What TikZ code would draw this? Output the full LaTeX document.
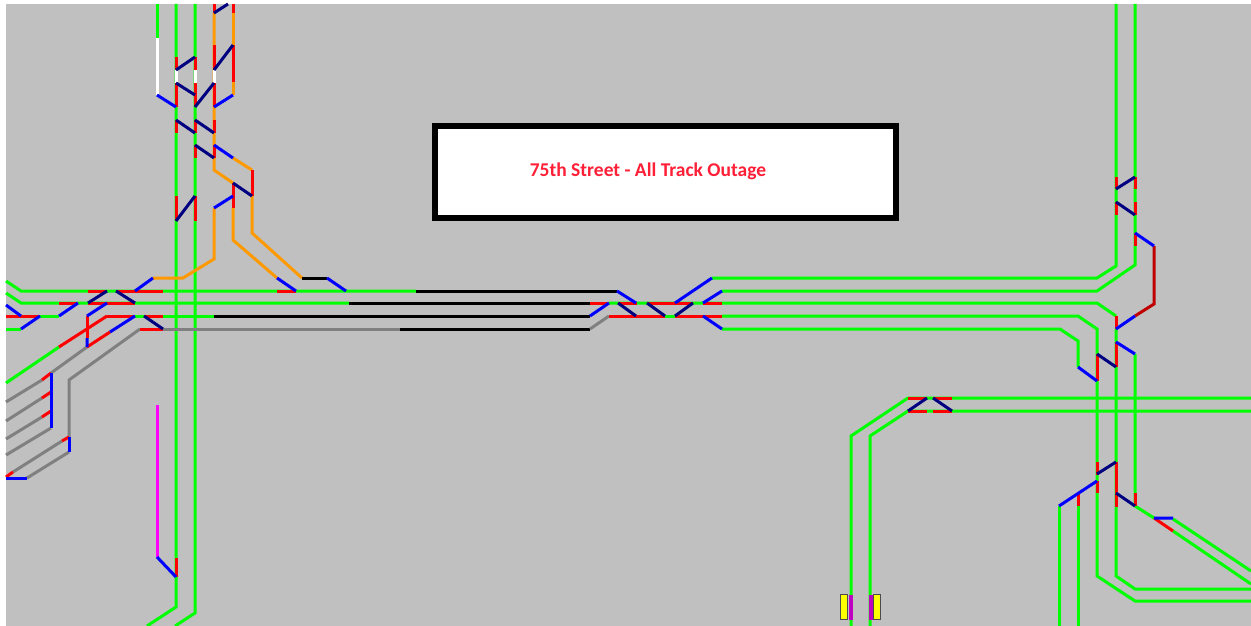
\documentclass[tikz,border=0pt]{standalone}
\usepackage{fontspec}
\setmainfont{Carlito}
\definecolor{panelgray}{RGB}{192,192,192}
\definecolor{signalgreen}{RGB}{0,255,0}
\definecolor{signalred}{RGB}{255,0,0}
\definecolor{signalblue}{RGB}{0,0,255}
\definecolor{signalnavy}{RGB}{0,0,128}
\definecolor{signalorange}{RGB}{255,153,0}
\definecolor{signalmaroon}{RGB}{192,0,0}
\definecolor{signalgray}{RGB}{128,128,128}
\definecolor{signalmagenta}{RGB}{255,0,255}
\definecolor{platformyellow}{RGB}{255,255,0}
\definecolor{platformpurple}{RGB}{192,0,192}
\definecolor{outagered}{RGB}{255,32,56}
\tikzset{
  greentrack/.style={draw=signalgreen, line width=3pt},
  redtrack/.style={draw=signalred, line width=3pt},
  bluetrack/.style={draw=signalblue, line width=3pt},
  navytrack/.style={draw=signalnavy, line width=3pt},
  orangetrack/.style={draw=signalorange, line width=3pt},
  blacktrack/.style={draw=black, line width=3pt},
  graytrack/.style={draw=signalgray, line width=3pt},
  whitetrack/.style={draw=white, line width=3pt},
  maroontrack/.style={draw=signalmaroon, line width=3pt},
  magentatrack/.style={draw=signalmagenta, line width=3pt},
  outagebox/.style={draw=black, fill=white, line width=6pt, minimum width=461pt, minimum height=92pt, inner sep=0pt},
  platform/.style={draw=black!70, fill=platformyellow, line width=1pt, minimum width=7pt, minimum height=25pt, inner sep=0pt},
  platformedge/.style={fill=platformpurple, minimum width=4pt, minimum height=25pt, inner sep=0pt}
}
\begin{document}
\begin{tikzpicture}[x=1pt,y=-1pt]
\useasboundingbox (0,0) rectangle (1251,626);
\fill[panelgray] (6,4) rectangle (1251,626);

\draw[greentrack] (157,4) -- (157,38);
\draw[greentrack] (176,4) -- (176,607) -- (147,626);
\draw[greentrack] (195,4) -- (195,613) -- (175,626);
\draw[greentrack] (6,281) -- (21,291) -- (416,291);
\draw[greentrack] (6,293) -- (21,303) -- (349,303);
\draw[greentrack] (40,316) -- (59,316) (135,316) -- (214,316) (6,329) -- (21,329);
\draw[greentrack] (59,347) -- (6,383);
\draw[greentrack] (609,303) -- (1097,303) -- (1116,316);
\draw[greentrack] (665,316) -- (675,316);
\draw[greentrack] (722,316) -- (1078,316) -- (1097,329) -- (1097,576) -- (1135,601) -- (1251,601);
\draw[greentrack] (712,278) -- (1097,278) -- (1116,266) -- (1116,4);
\draw[greentrack] (722,291) -- (1097,291) -- (1135,265) -- (1135,4);
\draw[greentrack] (722,329) -- (1060,329) -- (1078,341) -- (1078,367);
\draw[greentrack] (1116,329) -- (1116,576) -- (1135,589) -- (1251,589);
\draw[greentrack] (1135,354) -- (1135,506) -- (1154,518);
\draw[greentrack] (1173,531) -- (1251,584) (1173,519) -- (1251,571);
\draw[greentrack] (1059,506) -- (1059,626) (1078,506) -- (1078,626);
\draw[greentrack] (1251,398) -- (908,398) -- (851,436) -- (851,626);
\draw[greentrack] (1251,411) -- (908,411) -- (870,436) -- (870,626);

\draw[orangetrack] (214,13) -- (214,170) -- (233,183);
\draw[orangetrack] (233,13) -- (233,95);
\draw[orangetrack] (233,158) -- (252,170);
\draw[orangetrack] (214,208) -- (214,259) -- (183,278) -- (153,278);
\draw[orangetrack] (233,208) -- (233,240) -- (277,278);
\draw[orangetrack] (252,196) -- (252,233) -- (302,278);

\draw[blacktrack] (302,278) -- (327,278);
\draw[blacktrack] (416,291) -- (617,291);
\draw[blacktrack] (349,303) -- (590,303);
\draw[blacktrack] (214,316) -- (590,316);
\draw[blacktrack] (400,329) -- (590,329);

\draw[graytrack] (163,329) -- (400,329);
\draw[graytrack] (590,329) -- (609,316);
\draw[graytrack] (140,329) -- (69,380) -- (69,437);
\draw[graytrack] (69,452) -- (27,478);
\draw[graytrack] (62,441) -- (13,472);
\draw[graytrack] (87,347) -- (51,373);
\draw[graytrack] (42,380) -- (6,402) (42,398) -- (6,421) (42,417) -- (6,439);
\draw[graytrack] (51,428) -- (6,455);

\draw[whitetrack] (157,38) -- (157,95);
\draw[whitetrack] (176,70) -- (176,83) (195,70) -- (195,83) (214,70) -- (214,83);
\draw[magentatrack] (157,405) -- (157,557);

\draw[redtrack] (176,57) -- (176,70) (176,83) -- (176,107) (176,120) -- (176,133) (176,196) -- (176,221);
\draw[redtrack] (195,57) -- (195,70) (195,83) -- (195,107) (195,120) -- (195,133) (195,145) -- (195,158) (195,196) -- (195,221);
\draw[redtrack] (214,4) -- (214,13) (214,45) -- (214,70) (214,83) -- (214,107) (214,120) -- (214,133) (214,145) -- (214,158);
\draw[redtrack] (233,4) -- (233,13) (233,45) -- (233,82) (233,183) -- (233,208);
\draw[redtrack] (252,170) -- (252,196);
\draw[redtrack] (176,558) -- (176,577);
\draw[redtrack] (88,291) -- (107,291) (116,291) -- (163,291) (277,291) -- (296,291);
\draw[redtrack] (59,303) -- (78,303) (88,303) -- (135,303);
\draw[redtrack] (6,316) -- (40,316) (107,316) -- (135,316) (144,316) -- (163,316);
\draw[redtrack] (140,329) -- (163,329);
\draw[redtrack] (107,316) -- (59,347);
\draw[redtrack] (87,316) -- (87,338);
\draw[redtrack] (87,347) -- (110,332);
\draw[redtrack] (51,373) -- (42,380) (51,392) -- (42,398) (51,411) -- (42,417);
\draw[redtrack] (69,437) -- (62,441) (13,472) -- (6,477);
\draw[redtrack] (590,303) -- (609,303) (618,303) -- (637,303) (647,303) -- (693,303) (703,303) -- (722,303);
\draw[redtrack] (609,316) -- (665,316) (675,316) -- (722,316);
\draw[redtrack] (908,398) -- (927,398) (933,398) -- (952,398) (908,411) -- (927,411) (933,411) -- (952,411);
\draw[redtrack] (1116,177) -- (1116,189) (1116,202) -- (1116,215) (1135,177) -- (1135,189) (1135,202) -- (1135,215) (1135,233) -- (1135,246);
\draw[redtrack] (1116,316) -- (1116,329) (1116,342) -- (1116,367) (1097,354) -- (1097,381);
\draw[redtrack] (1097,462) -- (1097,475) (1097,481) -- (1097,493) (1116,462) -- (1116,507) (1135,493) -- (1135,506) (1078,493) -- (1078,506);
\draw[redtrack] (1154,518) -- (1173,531);

\draw[maroontrack] (1154,246) -- (1154,304) -- (1135,316);

\draw[navytrack] (214,13) -- (228,4);
\draw[navytrack] (176,70) -- (195,57) (176,83) -- (195,95) (195,107) -- (214,83) (214,70) -- (233,45);
\draw[navytrack] (176,120) -- (195,133) (195,120) -- (214,133) (195,145) -- (214,158);
\draw[navytrack] (176,221) -- (195,196) (233,183) -- (252,196);
\draw[navytrack] (88,303) -- (107,291) (116,291) -- (135,303) (144,316) -- (163,329);
\draw[navytrack] (618,303) -- (636,316) (647,303) -- (665,316) (675,316) -- (693,303);
\draw[navytrack] (908,411) -- (927,398) (933,398) -- (952,411);
\draw[navytrack] (1116,189) -- (1135,177) (1116,202) -- (1135,215);
\draw[navytrack] (1097,354) -- (1116,367) (1097,474) -- (1116,462) (1116,493) -- (1135,506);

\draw[bluetrack] (157,95) -- (176,107) (233,95) -- (214,107) (214,145) -- (233,158) (214,208) -- (233,196);
\draw[bluetrack] (153,278) -- (135,291) (277,278) -- (296,291) (327,278) -- (346,291);
\draw[bluetrack] (6,305) -- (21,316) (21,329) -- (40,316) (59,316) -- (78,303) (87,316) -- (107,303);
\draw[bluetrack] (87,338) -- (87,347) (110,332) -- (135,316);
\draw[bluetrack] (51,373) -- (51,428) (69,437) -- (69,452) (27,478) -- (6,478);
\draw[bluetrack] (157,557) -- (176,577);
\draw[bluetrack] (617,291) -- (636,303) (590,316) -- (609,303);
\draw[bluetrack] (675,303) -- (712,278) (703,303) -- (722,291) (703,316) -- (722,329);
\draw[bluetrack] (1135,233) -- (1154,246) (1135,316) -- (1116,329) (1116,342) -- (1135,354) (1078,367) -- (1097,381);
\draw[bluetrack] (1059,506) -- (1097,481) (1154,518) -- (1173,518);

\node[platform] (leftplatform) at (844,607) {};
\node[platformedge] (leftedge) at (850.5,607.5) {};
\node[platform] (rightplatform) at (876.5,607) {};
\node[platformedge] (rightedge) at (871,607.5) {};

\node[outagebox] (outage) at (665.5,172) {};
\node[font=\fontsize{19.5}{22}\selectfont\bfseries, text=outagered] (outagelabel) at (648,171.5) {75th Street - All Track Outage};
\end{tikzpicture}
\end{document}
